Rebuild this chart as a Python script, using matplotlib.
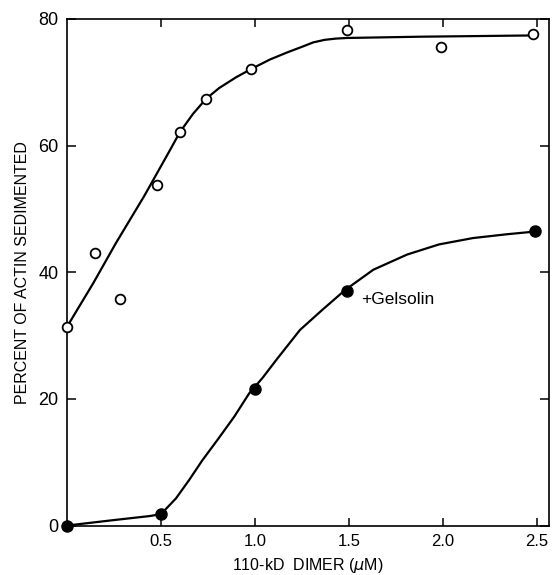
import matplotlib.pyplot as plt

plt.rcParams['font.family'] = ['Liberation Sans', 'DejaVu Sans']

# pontos medidos (circulos abertos: sem gelsolina; cheios: + gelsolina)
dimer_open = [0.0, 0.15, 0.28, 0.48, 0.60, 0.74, 0.98, 1.49, 1.99, 2.48]
pct_open = [31.4, 43.0, 35.8, 53.8, 62.1, 67.4, 72.1, 78.2, 75.5, 77.6]

dimer_gel = [0.0, 0.5, 1.0, 1.49, 2.49]
pct_gel = [0.0, 1.8, 21.6, 37.1, 46.5]

# curvas desenhadas a mao
curve_open_x = [0.0, 0.14, 0.26, 0.41, 0.55, 0.60, 0.67, 0.74, 0.81, 0.90,
                0.98, 1.08, 1.17, 1.25, 1.31, 1.37, 1.43, 1.49, 1.88, 2.48]
curve_open_y = [31.4, 38.3, 44.6, 52.0, 59.4, 62.1, 65.0, 67.4, 69.1, 70.8,
                72.1, 73.6, 74.7, 75.6, 76.3, 76.7, 76.9, 77.0, 77.2, 77.4]

curve_gel_x = [0.0, 0.23, 0.44, 0.50, 0.58, 0.65, 0.72, 0.80, 0.89, 0.97,
               1.04, 1.12, 1.24, 1.36, 1.48, 1.63, 1.81, 1.98, 2.16, 2.34, 2.48]
curve_gel_y = [0.0, 0.8, 1.5, 1.8, 4.3, 7.2, 10.3, 13.5, 17.2, 20.9,
               23.3, 26.4, 30.9, 34.1, 37.2, 40.4, 42.8, 44.4, 45.4, 46.0, 46.4]

x_ticks = [0.5, 1.0, 1.5, 2.0, 2.5]
x_labels = ['0.5', '1.0', '1.5', '2.0', '2.5']
y_ticks = [0, 20, 40, 60, 80]

fig = plt.figure(figsize=(5.54, 5.75), dpi=100)
ax = fig.add_axes([0.121, 0.086, 0.870, 0.881])

ax.plot(curve_open_x, curve_open_y, color='black', lw=1.6, zorder=2)
ax.plot(curve_gel_x, curve_gel_y, color='black', lw=1.6, zorder=2)
ax.plot(dimer_open, pct_open, 'o', ms=7, mfc='white', mec='black', mew=1.3,
        clip_on=False, zorder=3)
ax.plot(dimer_gel, pct_gel, 'o', ms=8, color='black', clip_on=False, zorder=3)

ax.text(1.567, 35.7, '+Gelsolin', fontsize=12.5, va='center', ha='left')

ax.set_xlim(0, 2.565)
ax.set_ylim(0, 80)
ax.set_xticks(x_ticks)
ax.set_xticklabels(x_labels, fontsize=12)
ax.set_yticks(y_ticks)
ax.tick_params(axis='y', labelsize=13, direction='in', length=6.5, width=1.1,
               pad=6, right=True)
ax.tick_params(axis='x', direction='in', length=6, width=1.1, pad=6, top=True)
for sp in ax.spines.values():
    sp.set_linewidth(1.2)

ax.set_xlabel('110-kD  DIMER ($\\mu$M)', fontsize=11.5, labelpad=5)
ax.set_ylabel('PERCENT OF ACTIN SEDIMENTED', fontsize=11.5, labelpad=6)

plt.savefig('out.png', dpi=100)
